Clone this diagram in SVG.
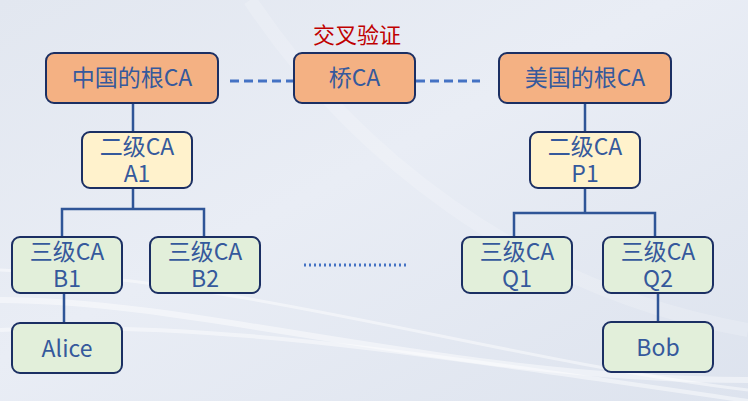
<svg xmlns="http://www.w3.org/2000/svg" width="748" height="401" viewBox="0 0 748 401">
<defs>
<linearGradient id="bg" x1="0" y1="0" x2="1" y2="1">
<stop offset="0" stop-color="#e2e7f0"/>
<stop offset="0.45" stop-color="#e9edf5"/>
<stop offset="1" stop-color="#dde3ee"/>
</linearGradient>
<style>
.box{stroke:#1b2f63;stroke-width:2}
.root{fill:#f4b183}
.sec{fill:#fff2cc}
.ter{fill:#e2efda}
.t{font-family:"Noto Sans CJK SC","Noto Sans",sans-serif;font-size:23px;fill:#35599c;text-anchor:middle}
.red{font-family:"Noto Sans CJK SC","Noto Sans",sans-serif;font-size:22px;fill:#c00000;text-anchor:middle}
.ln{stroke:#2f5597;stroke-width:2.5;fill:none}
.dash{stroke:#4472c4;stroke-width:3;fill:none;stroke-dasharray:9 5}
.dot{stroke:#4472c4;stroke-width:3;fill:none;stroke-dasharray:2 3}
</style>
</defs>
<rect width="748" height="401" fill="url(#bg)"/>
<g fill="none" stroke="#ffffff" stroke-opacity="0.45">
<path d="M0 300 C200 300 450 380 748 380" stroke-width="6"/>
<path d="M0 270 C250 280 500 360 748 390" stroke-width="3"/>
<path d="M250 0 C350 150 520 290 748 330" stroke-width="14" stroke-opacity="0.18"/>
<path d="M0 330 C200 320 400 350 748 401" stroke-width="4"/>
</g>
<g id="connectors">
<line class="dash" x1="230" y1="81" x2="293" y2="81"/>
<line class="dash" x1="416" y1="81" x2="480" y2="81"/>
<line class="dot" x1="304" y1="265" x2="406" y2="265"/>
<path class="ln" d="M133 103 V132"/>
<path class="ln" d="M133 188 V209 M62 237 V209 H204 V237"/>
<path class="ln" d="M64 293 V323"/>
<path class="ln" d="M585 103 V132"/>
<path class="ln" d="M585 188 V213 M514 237 V213 H655 V237"/>
<path class="ln" d="M658 293 V322"/>
</g>
<text class="red" x="357" y="43">交叉验证</text>
<g id="cn-root"><rect class="box root" x="46" y="53" width="172" height="50" rx="8"/><text class="t" x="132" y="86">中国的根CA</text></g>
<g id="bridge"><rect class="box root" x="294" y="53" width="121" height="50" rx="8"/><text class="t" x="354.5" y="86">桥CA</text></g>
<g id="us-root"><rect class="box root" x="499" y="53" width="172" height="50" rx="8"/><text class="t" x="585" y="86">美国的根CA</text></g>
<g id="A1"><rect class="box sec" x="82" y="132" width="110" height="56" rx="8"/><text class="t" x="137" y="155">二级CA</text><text class="t" x="137" y="182">A1</text></g>
<g id="P1"><rect class="box sec" x="530" y="132" width="110" height="56" rx="8"/><text class="t" x="585" y="155">二级CA</text><text class="t" x="585" y="182">P1</text></g>
<g id="B1"><rect class="box ter" x="12" y="237" width="110" height="56" rx="8"/><text class="t" x="67" y="260">三级CA</text><text class="t" x="67" y="287">B1</text></g>
<g id="B2"><rect class="box ter" x="150" y="237" width="110" height="56" rx="8"/><text class="t" x="205" y="260">三级CA</text><text class="t" x="205" y="287">B2</text></g>
<g id="Q1"><rect class="box ter" x="462" y="237" width="110" height="56" rx="8"/><text class="t" x="517" y="260">三级CA</text><text class="t" x="517" y="287">Q1</text></g>
<g id="Q2"><rect class="box ter" x="603" y="237" width="110" height="56" rx="8"/><text class="t" x="658" y="260">三级CA</text><text class="t" x="658" y="287">Q2</text></g>
<g id="Alice"><rect class="box ter" x="12" y="323" width="110" height="50" rx="8"/><text class="t" x="67" y="357">Alice</text></g>
<g id="Bob"><rect class="box ter" x="603" y="322" width="110" height="50" rx="8"/><text class="t" x="658" y="356">Bob</text></g>
</svg>
